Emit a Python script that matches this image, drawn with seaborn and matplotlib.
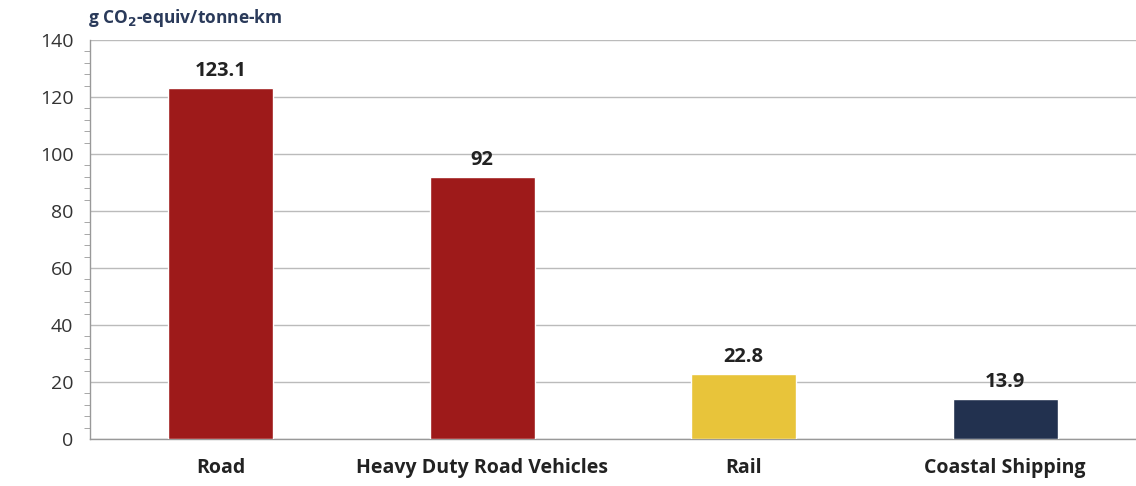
import numpy as np
import pandas as pd
import matplotlib.pyplot as plt
import seaborn as sns
from matplotlib.ticker import MultipleLocator

modes = ["Road", "Heavy Duty Road Vehicles", "Rail", "Coastal Shipping"]
emissions = [123.1, 92, 22.8, 13.9]
value_labels = ["123.1", "92", "22.8", "13.9"]
bar_colors = ["#9e1a1a", "#9e1a1a", "#e8c43a", "#22314f"]

df = pd.DataFrame({"mode": modes, "g": emissions})

sns.set_style("white")
plt.rcParams['font.family'] = ['Open Sans', 'DejaVu Sans']

fig = plt.figure(figsize=(11.36, 4.86), dpi=100)
ax = fig.add_axes([90 / 1136, 47 / 486, 1046 / 1136, 399 / 486])

sns.barplot(data=df, x="mode", y="g", hue="mode", palette=bar_colors,
            width=0.4, legend=False, saturation=1, ax=ax, zorder=3)

for i, (v, lab) in enumerate(zip(emissions, value_labels)):
    ax.text(i, v + 2.5, lab, ha='center', va='bottom', fontsize=14.5,
            fontweight='bold', color='#222222')

ax.set_ylim(0, 140)
ax.set_xlim(-0.5, 3.5)
ax.yaxis.set_major_locator(MultipleLocator(20))
ax.yaxis.set_minor_locator(MultipleLocator(4))
ax.grid(axis='y', which='major', color='#bbbbbb', linewidth=1, zorder=0)
ax.set_axisbelow(True)

ax.set_xticks(range(4))
ax.set_xticklabels(modes, fontsize=14, fontweight='bold', color='#222222')
ax.set_xticks([0.5, 1.5, 2.5], minor=True)
ax.tick_params(axis='x', which='major', length=0, pad=14)
ax.tick_params(axis='x', which='minor', length=5, color='#999999', direction='out')
ax.tick_params(axis='y', which='major', length=6, color='#999999', labelsize=14,
               labelcolor='#333333', pad=6)
ax.tick_params(axis='y', which='minor', length=4, color='#999999', left=True)
ax.set_xlabel("")
ax.set_ylabel("")

for s in ['top', 'right']:
    ax.spines[s].set_visible(False)
for s in ['left', 'bottom']:
    ax.spines[s].set_color('#999999')
    ax.spines[s].set_linewidth(1)

fig.text(88 / 1136, 1 - 18 / 486, r"g CO$_\mathbf{2}$-equiv/tonne-km", fontsize=12.5,
         fontweight='bold', color='#2a3a5a', ha='left', va='center')

fig.savefig("out.png", dpi=100)
